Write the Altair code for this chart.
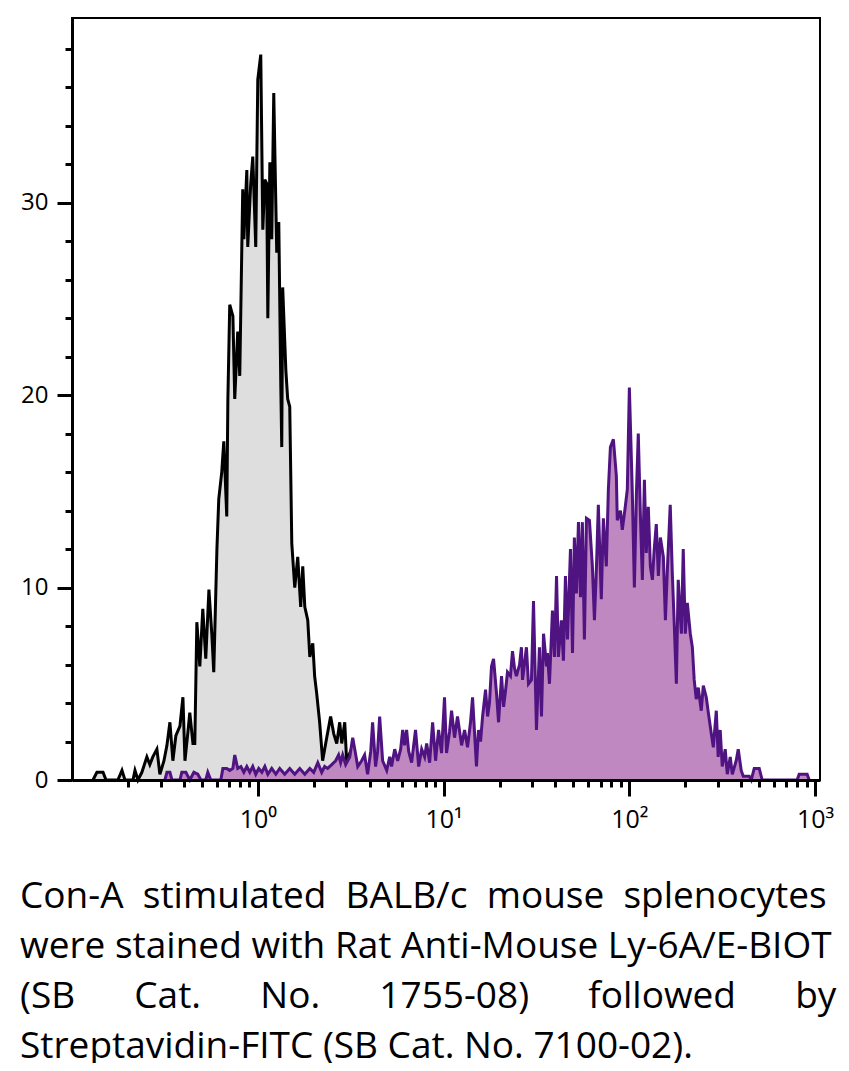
import altair as alt
import pandas as pd

# ---- control (unstained) histogram: log10 intensity and relative count ----
ctrl_log = [-0.887, -0.866, -0.849, -0.833, -0.817, -0.753, -0.731, -0.715, -0.672, -0.661,
            -0.645, -0.624, -0.597, -0.581, -0.565, -0.543, -0.527, -0.505, -0.489, -0.473,
            -0.457, -0.441, -0.419, -0.403, -0.392, -0.376, -0.366, -0.349, -0.339, -0.328,
            -0.312, -0.296, -0.280, -0.263, -0.247, -0.237, -0.220, -0.210, -0.194, -0.183,
            -0.167, -0.161, -0.151, -0.134, -0.124, -0.108, -0.097, -0.081, -0.075, -0.059,
            -0.054, -0.038, -0.027, -0.011, 0.000, 0.016, 0.027, 0.038, 0.048, 0.054,
            0.065, 0.075, 0.086, 0.102, 0.113, 0.124, 0.129, 0.134, 0.151, 0.161,
            0.172, 0.183, 0.199, 0.215, 0.231, 0.242, 0.253, 0.269, 0.280, 0.296,
            0.306, 0.317, 0.333, 0.349, 0.371, 0.392, 0.409, 0.425, 0.441, 0.452,
            0.468, 0.478, 0.495, 0.511, 0.527]
ctrl_count = [0, 0.4, 0.4, 0.4, 0, 0, 0.5, 0, 0, 0.5,
              0, 0.4, 1.2, 0.8, 1.2, 1.6, 0.3, 1.0, 1.8, 3.0,
              1.0, 2.3, 2.8, 4.3, 1.0, 2.5, 3.5, 1.9, 1.9, 8.2,
              5.9, 8.9, 6.3, 9.9, 7.5, 5.6, 12.0, 14.6, 16.0, 17.6,
              13.7, 19.8, 24.7, 24.1, 19.8, 23.3, 21.0, 30.7, 28.1, 31.7,
              27.7, 31.0, 32.4, 27.7, 36.4, 37.7, 28.6, 31.2, 31.0, 24.0,
              32.1, 28.1, 35.7, 27.4, 29.0, 20.4, 17.3, 25.6, 21.3, 19.8,
              19.4, 12.3, 10.0, 11.6, 9.0, 11.1, 9.0, 8.3, 6.4, 7.1,
              5.4, 4.5, 3.0, 1.0, 2.2, 3.3, 2.4, 1.9, 3.0, 1.9,
              3.0, 1.0, 1.4, 0.5, 0]

# ---- Ly-6A/E stained histogram ----
stain_log = [-0.500, -0.489, -0.473, -0.462, -0.419, -0.409, -0.387, -0.366, -0.344, -0.323,
             -0.306, -0.280, -0.269, -0.253, -0.199, -0.188, -0.167, -0.151, -0.134, -0.124,
             -0.108, -0.091, -0.075, -0.059, -0.043, -0.027, -0.011, 0.005, 0.022, 0.038,
             0.054, 0.075, 0.097, 0.118, 0.145, 0.172, 0.199, 0.226, 0.253, 0.280,
             0.301, 0.323, 0.344, 0.360, 0.376, 0.398, 0.419, 0.435, 0.446, 0.457,
             0.473, 0.495, 0.511, 0.522, 0.538, 0.559, 0.575, 0.591, 0.608, 0.618,
             0.634, 0.645, 0.656, 0.672, 0.694, 0.710, 0.720, 0.737, 0.753, 0.769,
             0.780, 0.790, 0.801, 0.812, 0.828, 0.839, 0.849, 0.866, 0.882, 0.898,
             0.909, 0.925, 0.941, 0.957, 0.973, 0.989, 1.005, 1.016, 1.032, 1.043,
             1.059, 1.075, 1.097, 1.113, 1.129, 1.145, 1.156, 1.177, 1.188, 1.199,
             1.210, 1.226, 1.237, 1.247, 1.258, 1.269, 1.285, 1.296, 1.312, 1.323,
             1.333, 1.344, 1.360, 1.371, 1.382, 1.392, 1.409, 1.419, 1.425, 1.435,
             1.446, 1.457, 1.473, 1.484, 1.500, 1.516, 1.527, 1.538, 1.554, 1.559,
             1.570, 1.586, 1.597, 1.608, 1.618, 1.634, 1.645, 1.656, 1.667, 1.683,
             1.694, 1.704, 1.715, 1.726, 1.737, 1.747, 1.758, 1.769, 1.785, 1.801,
             1.812, 1.823, 1.833, 1.849, 1.860, 1.876, 1.887, 1.898, 1.914, 1.930,
             1.935, 1.952, 1.962, 1.978, 1.989, 2.000, 2.016, 2.027, 2.038, 2.048,
             2.059, 2.070, 2.081, 2.091, 2.102, 2.113, 2.124, 2.134, 2.145, 2.156,
             2.167, 2.183, 2.194, 2.204, 2.220, 2.231, 2.242, 2.253, 2.263, 2.280,
             2.290, 2.301, 2.312, 2.328, 2.339, 2.349, 2.360, 2.371, 2.387, 2.398,
             2.414, 2.425, 2.441, 2.452, 2.468, 2.478, 2.489, 2.500, 2.516, 2.527,
             2.543, 2.554, 2.575, 2.586, 2.602, 2.613, 2.645, 2.656, 2.672, 2.699,
             2.715, 2.903, 2.914, 2.930, 2.946, 2.957, 2.968]
stain_count = [0, 0.4, 0.4, 0, 0, 0.4, 0.4, 0, 0.4, 0.3,
               0, 0, 0.4, 0, 0, 0.6, 0.6, 0.5, 0.6, 1.3,
               0.6, 0.7, 0.4, 0.7, 0.4, 0.7, 0.3, 0.6, 0.4, 0.7,
               0.3, 0.6, 0.3, 0.6, 0.3, 0.6, 0.3, 0.6, 0.3, 0.6,
               0.4, 0.9, 0.4, 0.7, 0.6, 0.8, 1.0, 1.3, 0.9, 1.3,
               0.8, 1.2, 2.2, 1.6, 0.7, 1.0, 1.3, 0.3, 1.5, 3.0,
               0.7, 1.5, 3.3, 1.0, 0.5, 1.2, 0.7, 1.6, 1.0, 1.6,
               2.6, 1.8, 2.6, 1.5, 0.9, 1.8, 2.6, 0.7, 1.6, 1.2,
               1.9, 0.9, 3.0, 1.0, 2.6, 1.4, 4.3, 1.4, 2.5, 3.6,
               2.2, 3.3, 1.8, 2.6, 1.7, 3.0, 4.3, 0.7, 2.6, 2.0,
               3.3, 4.7, 3.3, 4.0, 5.9, 6.3, 4.5, 3.0, 5.4, 3.8,
               4.6, 5.6, 5.4, 6.7, 5.8, 5.4, 6.0, 6.9, 5.2, 6.0,
               6.9, 5.0, 5.2, 9.3, 2.6, 6.9, 3.3, 7.6, 5.9, 6.6,
               5.0, 8.8, 6.4, 10.6, 6.4, 8.3, 6.2, 10.6, 7.3, 12.0,
               6.6, 12.6, 9.7, 13.4, 9.5, 13.4, 7.3, 13.6, 13.5, 11.1,
               8.3, 11.1, 14.3, 9.4, 13.6, 11.1, 15.1, 17.3, 17.7, 15.8,
               13.5, 14.0, 13.0, 14.2, 15.1, 20.4, 14.9, 10.0, 14.9, 18.0,
               13.9, 10.4, 15.6, 11.8, 14.2, 11.1, 10.4, 12.0, 13.3, 10.6,
               12.6, 11.6, 8.3, 10.8, 14.3, 10.8, 8.0, 5.0, 10.4, 7.6,
               12.0, 7.6, 9.2, 7.6, 6.9, 5.2, 4.2, 4.8, 3.6, 4.9,
               4.3, 3.5, 2.4, 1.7, 3.6, 1.2, 2.6, 0.7, 1.6, 0.3,
               1.2, 0.3, 1.0, 1.6, 0.5, 0.2, 0.2, 0, 0.6, 0.6,
               0, 0, 0.3, 0.3, 0.3, 0.3, 0]

# ---- axes ----
x_major_ticks = [1, 10, 100, 1000]
x_tick_labels = ["10\u2070", "10\u00b9", "10\u00b2", "10\u00b3"]
x_minor_ticks = [0.2, 0.3, 0.4, 0.5, 0.6, 0.7, 0.8, 0.9,
                 2, 3, 4, 5, 6, 7, 8, 9,
                 20, 30, 40, 50, 60, 70, 80, 90,
                 200, 300, 400, 500, 600, 700, 800, 900]
y_major_ticks = [0, 10, 20, 30]
y_minor_ticks = [2, 4, 6, 8, 12, 14, 16, 18, 22, 24, 26, 28, 32, 34, 36, 38]

SP1 = "\u00a0 "
SP3 = "\u2003\u2002\u200a"
caption_lines = [
    SP1.join(["Con-A", "stimulated", "BALB/c", "mouse", "splenocytes"]),
    "were stained with Rat Anti-Mouse Ly-6A/E-BIOT",
    SP3.join(["(SB", "Cat.", "No.", "1755-08)", "followed", "by"]),
    "Streptavidin-FITC (SB Cat. No. 7100-02).",
]

assert len(ctrl_log) == len(ctrl_count)
assert len(stain_log) == len(stain_count)

ctrl_df = pd.DataFrame({"intensity": [10 ** v for v in ctrl_log], "count": ctrl_count})
stain_df = pd.DataFrame({"intensity": [10 ** v for v in stain_log], "count": stain_count})

FONT = "Open Sans"

label_expr = ""
for v, lab in zip(x_major_ticks[:-1], x_tick_labels[:-1]):
    label_expr += f"datum.value == {v} ? '{lab}' : "
label_expr += f"'{x_tick_labels[-1]}'"

xs = alt.Scale(type="log", domain=[0.1, 1062], nice=False)
ys = alt.Scale(domain=[0, 39.6], nice=False, zero=False)

major_x = alt.Axis(orient="bottom", values=x_major_ticks, labelExpr=label_expr,
                   tickSize=16, tickWidth=3, tickColor="black",
                   domainWidth=3, domainColor="black",
                   labelFont=FONT, labelFontSize=25, labelColor="black",
                   labelPadding=11, labelFlush=False, labelOverlap=False,
                   grid=False, title=None, zindex=1)
minor_x = alt.Axis(orient="bottom", values=x_minor_ticks, labels=False, domain=False,
                   tickSize=7, tickWidth=3, tickColor="black",
                   grid=False, title=None, zindex=1)
major_y = alt.Axis(orient="left", values=y_major_ticks,
                   tickSize=15, tickWidth=3, tickColor="black",
                   domainWidth=3, domainColor="black",
                   labelFont=FONT, labelFontSize=24, labelColor="black",
                   labelPadding=9, labelFlush=False,
                   grid=False, title=None, zindex=1)
minor_y = alt.Axis(orient="left", values=y_minor_ticks, labels=False, domain=False,
                   tickSize=7, tickWidth=3, tickColor="black",
                   grid=False, title=None, zindex=1)

g_area = alt.Chart(ctrl_df).mark_area(color="#dedede", opacity=1).encode(
    x=alt.X("intensity:Q", scale=xs, axis=major_x),
    y=alt.Y("count:Q", scale=ys, axis=major_y),
)
g_line = alt.Chart(ctrl_df).mark_line(color="black", strokeWidth=3).encode(
    x=alt.X("intensity:Q", scale=xs, axis=None),
    y=alt.Y("count:Q", scale=ys, axis=None),
)
p_area = alt.Chart(stain_df).mark_area(color="#c088c0", opacity=1).encode(
    x=alt.X("intensity:Q", scale=xs, axis=minor_x),
    y=alt.Y("count:Q", scale=ys, axis=minor_y),
)
p_line = alt.Chart(stain_df).mark_line(color="#501482", strokeWidth=3).encode(
    x=alt.X("intensity:Q", scale=xs, axis=None),
    y=alt.Y("count:Q", scale=ys, axis=None),
)

chart = (
    alt.layer(g_area, g_line, p_area, p_line)
    .resolve_axis(x="independent", y="independent")
    .properties(
        width=748,
        height=762,
        autosize=alt.AutoSizeParams(type="none"),
        padding={"left": 64, "top": 10, "right": 21, "bottom": 283},
        title=alt.TitleParams(
            text=caption_lines, orient="bottom", anchor="start", align="left",
            frame="group", dx=-52, offset=47, font=FONT, fontSize=37,
            fontWeight="normal", color="black", lineHeight=50,
        ),
    )
    .configure_view(stroke="black", strokeWidth=2)
)

chart.save("out.html", embed_options={"renderer": "svg", "actions": False})
